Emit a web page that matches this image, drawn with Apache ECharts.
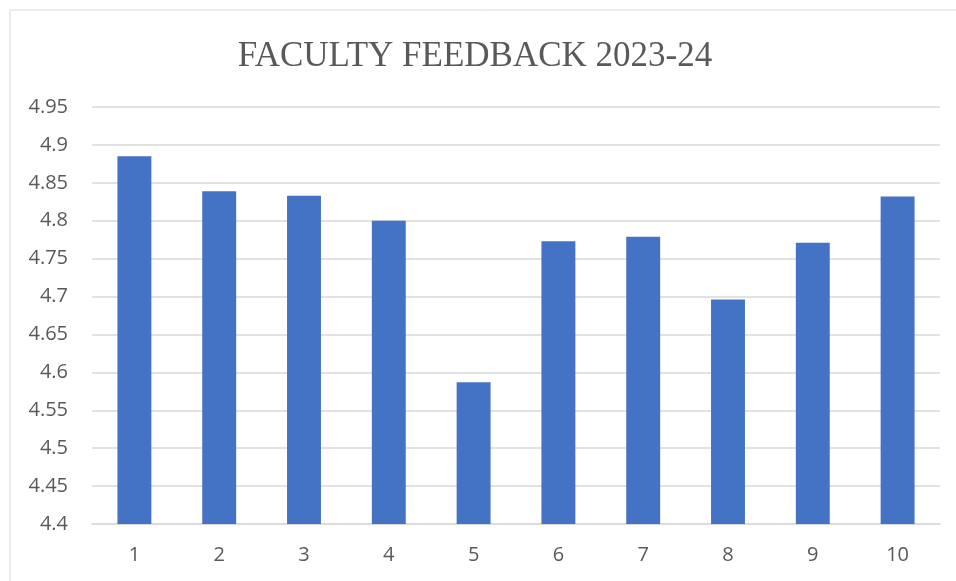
<!DOCTYPE html>
<html>
<head>
<meta charset="utf-8">
<style>
html, body { margin: 0; padding: 0; background: #fff; }
#chart-panel { width: 956px; height: 581px; }
</style>
<script src="https://cdn.jsdelivr.net/npm/echarts@6/dist/echarts.min.js"></script>
</head>
<body>
<div id="chart-panel"></div>
<script type="text/javascript">
// feedback score per faculty number
var categories = ['1', '2', '3', '4', '5', '6', '7', '8', '9', '10'];
var scores = [4.885, 4.839, 4.833, 4.800, 4.587, 4.773, 4.779, 4.696, 4.771, 4.832];
var titleText = 'FACULTY FEEDBACK 2023-24';

var myChart = echarts.init(document.getElementById('chart-panel'));
var option = {
    animation: false,
    title: {
        text: titleText,
        left: 470,
        top: 34,
        textAlign: 'center',
        textStyle: {
            fontFamily: 'Liberation Serif',
            fontWeight: 'normal',
            fontSize: 35,
            color: '#595959'
        }
    },
    graphic: [{
        type: 'rect',
        shape: { x: 10, y: 10, width: 960, height: 600 },
        style: { fill: 'none', stroke: '#d9d9d9', lineWidth: 1 },
        silent: true
    }],
    grid: { left: 92, right: 16, top: 107, bottom: 57 },
    xAxis: {
        type: 'category',
        data: categories,
        axisTick: { show: false },
        axisLine: { lineStyle: { color: '#d9d9d9', width: 1.5 } },
        axisLabel: {
            margin: 21,
            fontFamily: 'Open Sans',
            fontSize: 20,
            color: '#595959'
        }
    },
    yAxis: {
        type: 'value',
        min: 4.4,
        max: 4.95,
        interval: 0.05,
        axisLine: { show: false },
        axisTick: { show: false },
        splitLine: { lineStyle: { color: '#d9d9d9', width: 1.5 } },
        axisLabel: {
            margin: 24,
            fontFamily: 'Open Sans',
            fontSize: 20,
            color: '#595959'
        }
    },
    series: [{
        type: 'bar',
        data: scores,
        barWidth: '40%',
        itemStyle: { color: '#4472C4' }
    }]
};
myChart.setOption(option);
</script>
</body>
</html>
